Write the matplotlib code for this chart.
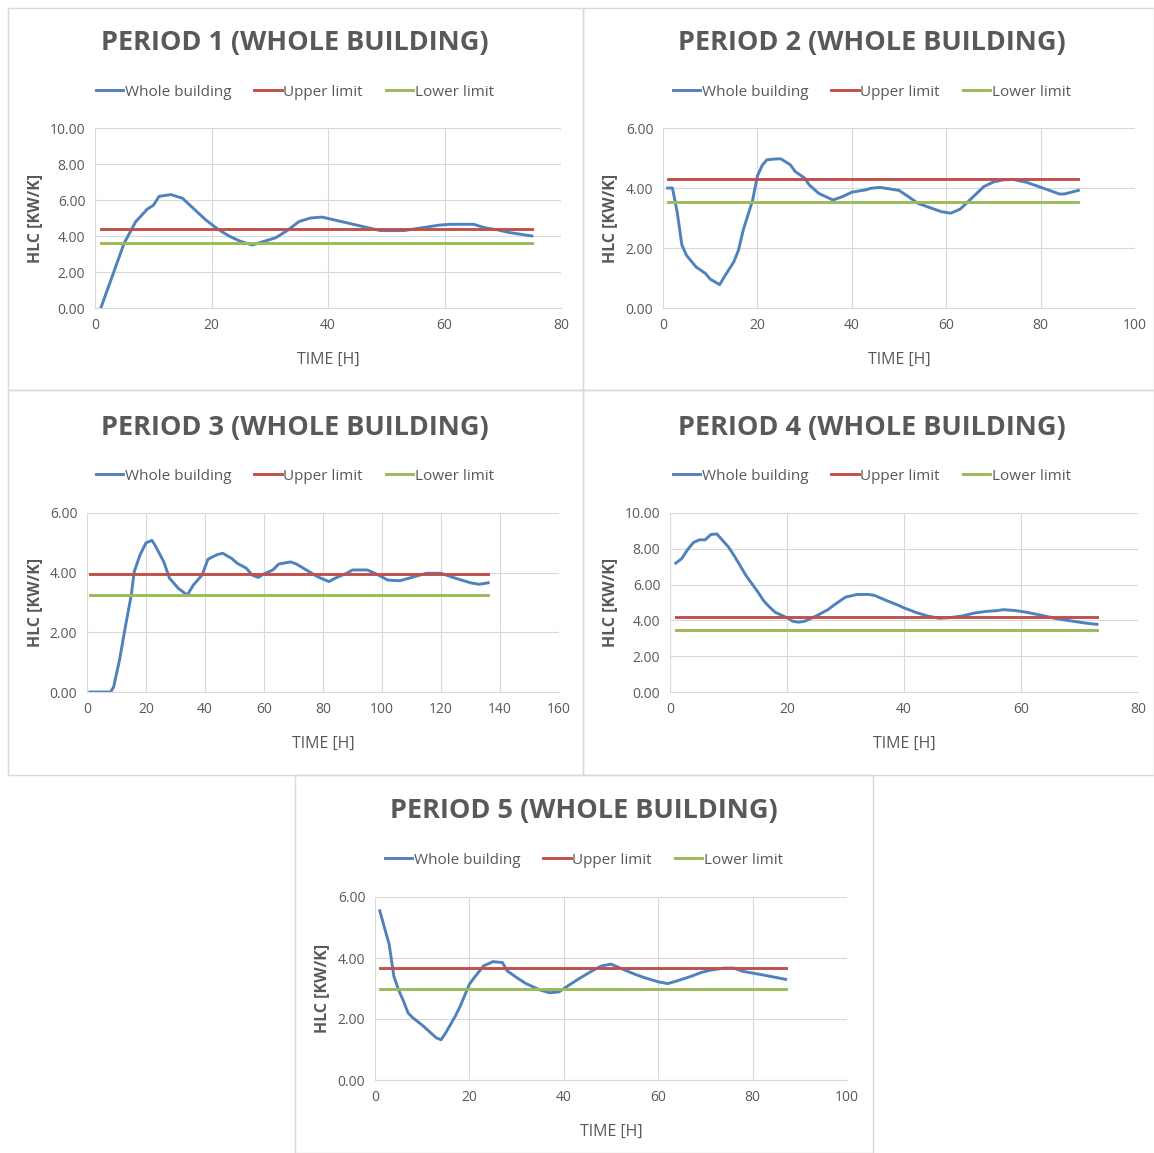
import matplotlib
matplotlib.use("Agg")
import matplotlib.pyplot as plt
from matplotlib.patches import Rectangle

plt.rcParams['font.family'] = ['Open Sans', 'DejaVu Sans']

# ---- data ----
p1_t = [1, 3, 5, 7, 9, 10, 11, 13, 15, 17, 19, 21, 23, 25, 27, 29, 31, 33, 35, 37, 39, 41, 43,
        45, 47, 49, 51, 53, 55, 57, 59, 61, 63, 65, 67, 69, 71, 73, 75]
p1_hlc = [0.0, 1.8, 3.6, 4.8, 5.5, 5.7, 6.2, 6.3, 6.1, 5.5, 4.9, 4.4, 4.0, 3.7, 3.5, 3.7, 3.9, 4.3,
          4.8, 5.0, 5.05, 4.9, 4.75, 4.6, 4.45, 4.3, 4.3, 4.3, 4.4, 4.5, 4.6, 4.65, 4.65, 4.65,
          4.45, 4.35, 4.2, 4.1, 4.0]
p1_upper, p1_lower = 4.4, 3.62

p2_t = [1, 2, 3, 4, 5, 7, 9, 10, 12, 13, 15, 16, 17, 19, 20, 21, 22, 24, 25, 27, 28, 30, 31, 33,
        36, 38, 40, 43, 44, 46, 48, 50, 52, 54, 57, 59, 61, 63, 65, 68, 70, 72, 74, 77, 79, 81,
        84, 85, 88]
p2_hlc = [4.0, 4.0, 3.2, 2.1, 1.75, 1.37, 1.15, 0.96, 0.78, 1.04, 1.54, 1.93, 2.6, 3.6, 4.4, 4.75,
          4.94, 4.97, 4.97, 4.77, 4.55, 4.33, 4.1, 3.82, 3.6, 3.71, 3.86, 3.94, 3.99, 4.02, 3.97,
          3.92, 3.71, 3.49, 3.32, 3.21, 3.16, 3.3, 3.6, 4.05, 4.2, 4.27, 4.29, 4.19, 4.08, 3.97,
          3.8, 3.8, 3.92]
p2_upper, p2_lower = 4.3, 3.54

p3_t = [1, 8, 9, 11, 13, 15, 16, 18, 20, 22, 23, 26, 28, 31, 34, 36, 39, 41, 44, 46, 49, 51, 54,
        56, 58, 60, 63, 65, 69, 71, 74, 78, 82, 84, 88, 90, 95, 98, 102, 106, 109, 115, 120,
        125, 130, 133, 136]
p3_hlc = [0.0, 0.0, 0.16, 1.06, 2.18, 3.25, 4.03, 4.6, 5.0, 5.08, 4.93, 4.37, 3.81, 3.47, 3.25,
          3.58, 3.92, 4.45, 4.6, 4.65, 4.48, 4.31, 4.15, 3.92, 3.84, 3.96, 4.09, 4.29, 4.36, 4.29,
          4.11, 3.87, 3.7, 3.81, 3.98, 4.09, 4.09, 3.96, 3.75, 3.73, 3.81, 3.98, 3.98, 3.81, 3.66,
          3.61, 3.66]
p3_upper, p3_lower = 3.97, 3.25

p4_t = [1, 2, 3, 4, 5, 6, 7, 8, 10, 11, 12, 13, 15, 16, 17, 18, 20, 21, 22, 23, 25, 27, 28, 30,
        32, 34, 35, 37, 39, 40, 42, 44, 46, 48, 50, 52, 54, 56, 57, 59, 61, 64, 66, 69, 71, 73]
p4_hlc = [7.2, 7.45, 7.95, 8.35, 8.5, 8.5, 8.8, 8.83, 8.1, 7.6, 7.05, 6.5, 5.6, 5.1, 4.75, 4.45,
          4.15, 3.95, 3.9, 3.95, 4.25, 4.6, 4.85, 5.3, 5.45, 5.45, 5.39, 5.11, 4.85, 4.7, 4.45,
          4.25, 4.12, 4.16, 4.25, 4.41, 4.5, 4.55, 4.6, 4.55, 4.45, 4.25, 4.1, 3.95, 3.85, 3.78]
p4_upper, p4_lower = 4.2, 3.45

p5_t = [1, 2, 3, 4, 5, 6, 7, 8, 10, 13, 14, 15, 17, 18, 20, 21, 23, 25, 27, 28, 30, 32, 35, 37,
        39, 41, 43, 46, 48, 50, 53, 55, 57, 60, 62, 64, 67, 69, 71, 74, 76, 78, 82, 85, 87]
p5_hlc = [5.55, 5.0, 4.45, 3.4, 2.95, 2.6, 2.2, 2.04, 1.8, 1.38, 1.32, 1.55, 2.09, 2.4, 3.14, 3.35,
          3.74, 3.88, 3.85, 3.58, 3.36, 3.16, 2.95, 2.86, 2.89, 3.1, 3.3, 3.58, 3.74, 3.8, 3.6,
          3.47, 3.36, 3.22, 3.16, 3.25, 3.4, 3.52, 3.6, 3.67, 3.67, 3.56, 3.45, 3.36, 3.3]
p5_upper, p5_lower = 3.67, 3.0

periods = [
    ("PERIOD 1 (WHOLE BUILDING)", p1_t, p1_hlc, p1_upper, p1_lower, 80, 20, 10, 2),
    ("PERIOD 2 (WHOLE BUILDING)", p2_t, p2_hlc, p2_upper, p2_lower, 100, 20, 6, 2),
    ("PERIOD 3 (WHOLE BUILDING)", p3_t, p3_hlc, p3_upper, p3_lower, 160, 20, 6, 2),
    ("PERIOD 4 (WHOLE BUILDING)", p4_t, p4_hlc, p4_upper, p4_lower, 80, 20, 10, 2),
    ("PERIOD 5 (WHOLE BUILDING)", p5_t, p5_hlc, p5_upper, p5_lower, 100, 20, 6, 2),
]

W, H = 1154, 1153
# pixel layout: axes box (left, top, right, bottom), panel frame (left, top, right, bottom)
axes_px = [(95, 128, 561, 308), (663, 128, 1135, 308), (87, 513, 559, 692),
           (670, 513, 1138, 692), (375, 897, 847, 1080)]
frame_px = [(8, 8, 583, 390), (583, 8, 1154, 390), (8, 390, 583, 775),
            (583, 390, 1154, 775), (295, 775, 873, 1153)]
title_px = [(295, 43), (872, 43), (295, 428), (872, 428), (584, 811)]
legend_y = [92, 92, 476, 476, 860]
ylab_x = [35, 610, 35, 610, 322]
xlab_y = [360, 360, 744, 744, 1132]

BLUE, RED, GREEN = "#4F81BD", "#C0504D", "#9BBB59"
TXT = "#595959"

fig = plt.figure(figsize=(W / 100, H / 100), dpi=100)

for i, (title, t, hlc, up, lo, xmax, xstep, ymax, ystep) in enumerate(periods):
    fl, ft, fr, fb = frame_px[i]
    fig.patches.append(Rectangle((fl / W, 1 - fb / H), (fr - fl) / W, (fb - ft) / H,
                                 transform=fig.transFigure, fill=False,
                                 edgecolor="#D9D9D9", lw=1))
    l, tp, r, b = axes_px[i]
    ax = fig.add_axes([l / W, 1 - b / H, (r - l) / W, (b - tp) / H])
    h1, = ax.plot(t, hlc, color=BLUE, lw=2.1, label="Whole building")
    h2, = ax.plot([t[0], t[-1]], [up, up], color=RED, lw=2.1, label="Upper limit")
    h3, = ax.plot([t[0], t[-1]], [lo, lo], color=GREEN, lw=2.1, label="Lower limit")
    ax.set_xlim(0, xmax)
    ax.set_ylim(0, ymax)
    ax.set_xticks(range(0, xmax + 1, xstep))
    yt = list(range(0, ymax + 1, ystep))
    ax.set_yticks(yt)
    ax.set_yticklabels([f"{v:.2f}" for v in yt])
    ax.grid(True, color="#D9D9D9", lw=0.8)
    ax.set_axisbelow(True)
    for s in ["top", "right", "left"]:
        ax.spines[s].set_visible(False)
    ax.spines["bottom"].set_color("#D9D9D9")
    ax.tick_params(length=0, labelsize=10, labelcolor=TXT, pad=7)
    fig.text(title_px[i][0] / W, 1 - title_px[i][1] / H, title, ha="center", va="center",
             fontsize=19.5, fontweight="bold", color=TXT)
    fig.legend(handles=[h1, h2, h3], loc="center", ncol=3, frameon=False,
               bbox_to_anchor=(title_px[i][0] / W, 1 - legend_y[i] / H),
               fontsize=11, labelcolor=TXT, handlelength=1.8, handletextpad=0.1,
               columnspacing=1.5)
    fig.text(ylab_x[i] / W, 1 - (tp + b) / 2 / H, "HLC [KW/K]", rotation=90, ha="center",
             va="center", fontsize=11.5, fontweight="bold", color=TXT)
    fig.text((l + r) / 2 / W, 1 - xlab_y[i] / H, "TIME [H]", ha="center", va="center",
             fontsize=11.5, color=TXT)

fig.savefig("out.png", dpi=100)
